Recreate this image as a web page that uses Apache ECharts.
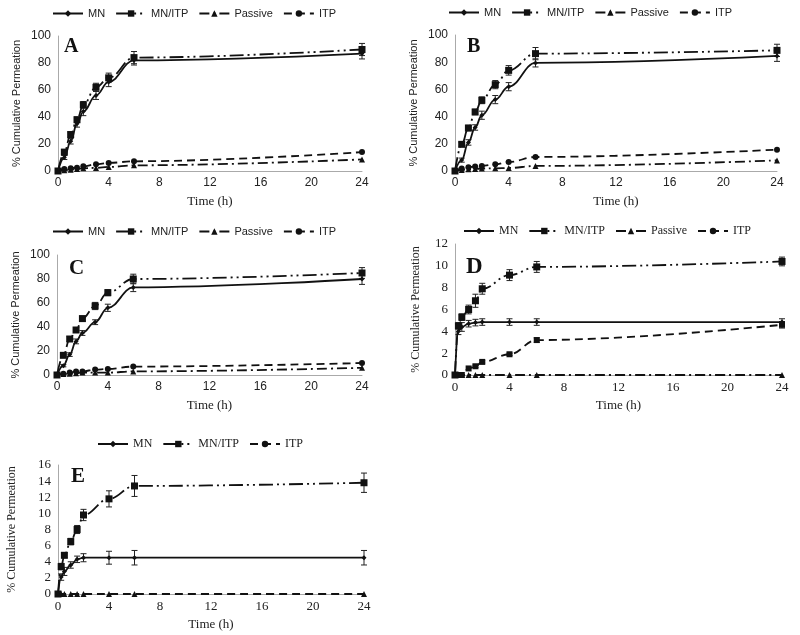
<!DOCTYPE html>
<html><head><meta charset="utf-8">
<script src="https://cdn.jsdelivr.net/npm/echarts@6/dist/echarts.min.js"></script>
<style>html,body{margin:0;padding:0;background:#fff}#c{width:800px;height:635px}</style>
</head><body><div id="c"></div><script>
// ---- Data ----
const timeABC = [0, 0.5, 1, 1.5, 2, 3, 4, 6, 24];
const timeDE  = [0, 0.25, 0.5, 1, 1.5, 2, 4, 6, 24];
const xTicks = [0, 4, 8, 12, 16, 20, 24];
const legendABCD = ['MN', 'MN/ITP', 'Passive', 'ITP'];
const legendE = ['MN', 'MN/ITP', 'ITP'];
const panelLetters = ['A', 'B', 'C', 'D', 'E'];

const A_MN      = [0, 10, 22, 35, 44, 56, 66, 82, 87];
const A_MNITP   = [0, 14, 27, 38, 49, 62, 69, 84, 90];
const A_Passive = [0, 0.5, 1, 1.5, 2, 2.3, 3, 4.2, 8.6];
const A_ITP     = [0, 1.5, 2, 2.5, 3.5, 5, 6, 7.2, 14];
const A_MN_err    = [0, 1.5, 2, 2.5, 3, 3, 3.5, 3.5, 4];
const A_MNITP_err = [0, 1.5, 2, 2, 2.5, 3, 3.5, 4.5, 4.5];

const B_MN      = [0, 8, 21, 32, 41, 52.5, 62, 79.5, 84.6];
const B_MNITP   = [0, 19.6, 31.6, 43.4, 52, 63.5, 74, 86.3, 88.7];
const B_Passive = [0, 0.8, 1.2, 1.5, 1.8, 2, 2.2, 3.7, 7.8];
const B_ITP     = [0, 1.8, 2.7, 3.3, 3.7, 4.9, 6.6, 10.3, 15.7];
const B_MN_err    = [0, 1.5, 2, 2, 3, 3, 3, 3, 4];
const B_MNITP_err = [0, 1.5, 2, 2, 2.5, 3, 3.5, 4.5, 4.5];

const C_MN      = [0, 7.8, 17, 28, 35, 44, 56, 73, 80];
const C_MNITP   = [0, 16.4, 30, 37.5, 47, 57.5, 68.6, 80, 85];
const C_Passive = [0, 0.8, 1, 1.5, 2, 2, 2, 3, 6];
const C_ITP     = [0, 1, 2, 3, 3, 4.5, 5, 7, 10];
const C_MN_err    = [0, 1, 1.5, 2, 2, 2, 3, 3.5, 4.5];
const C_MNITP_err = [0, 1, 2, 2, 2, 3, 2.5, 4, 4.5];

const D_MN      = [0, 4.0, 4.4, 4.7, 4.8, 4.85, 4.85, 4.85, 4.85];
const D_MNITP   = [0, 4.5, 5.3, 6.0, 6.8, 7.9, 9.15, 9.9, 10.4];
const D_Passive = [0, 0, 0, 0, 0, 0, 0, 0, 0];
const D_ITP     = [0, 0, 0, 0.6, 0.8, 1.2, 1.9, 3.2, 4.6];
const D_MN_err    = [0, 0.3, 0.4, 0.3, 0.3, 0.3, 0.3, 0.3, 0.3];
const D_MNITP_err = [0, 0.3, 0.3, 0.4, 0.6, 0.5, 0.5, 0.5, 0.4];
const D_ITP_err   = [0, 0, 0, 0, 0.1, 0.1, 0.1, 0.2, 0.3];

const E_MN      = [0, 2.1, 2.8, 3.6, 4.3, 4.5, 4.5, 4.5, 4.5];
const E_MNITP   = [0, 3.4, 4.8, 6.5, 8.0, 9.8, 11.8, 13.4, 13.8];
const E_ITP     = [0, 0, 0, 0, 0, 0, 0, 0, 0];
const E_MN_err    = [0, 0.4, 0.5, 0.4, 0.4, 0.5, 0.8, 0.9, 0.9];
const E_MNITP_err = [0, 0.4, 0.3, 0.4, 0.5, 0.7, 1.0, 1.3, 1.2];

// ---- Layout / styles ----
const SANS = 'Liberation Sans';
const SERIF = 'Liberation Serif';
const grids = [
  {left: 58, top: 36, width: 304, height: 135},
  {left: 455, top: 35, width: 322, height: 136},
  {left: 57, top: 255, width: 305, height: 120},
  {left: 455, top: 244, width: 327, height: 131},
  {left: 58, top: 465, width: 306, height: 129}
];
const yMax = [100, 100, 100, 12, 16];
const yInt = [20, 20, 20, 2, 2];
const tickFont = [SANS, SANS, SANS, SERIF, SERIF];
const nameGapY = [36, 36, 36, 33, 40];
const letterPos = [[64, 37, 20], [467, 37, 20], [69, 258, 21], [466, 256, 23], [71, 466, 21]];
const legendPos = [[52, 8], [448, 7], [52, 226], [463, 225], [97, 438]];
const legendFont = [SANS, SANS, SANS, SERIF, SERIF];

const style = {
  'MN':      {symbol: 'diamond', size: 5, type: 'solid'},
  'MN/ITP':  {symbol: 'rect', size: 7, type: [14, 4, 2, 4, 2, 4]},
  'Passive': {symbol: 'triangle', size: 6, type: [10, 4, 2, 4]},
  'ITP':     {symbol: 'circle', size: 6, type: [8, 5]}
};

const panels = [
  {t: timeABC, s: [['MN', A_MN, A_MN_err], ['MN/ITP', A_MNITP, A_MNITP_err], ['Passive', A_Passive, null], ['ITP', A_ITP, null]]},
  {t: timeABC, s: [['MN', B_MN, B_MN_err], ['MN/ITP', B_MNITP, B_MNITP_err], ['Passive', B_Passive, null], ['ITP', B_ITP, null]]},
  {t: timeABC, s: [['MN', C_MN, C_MN_err], ['MN/ITP', C_MNITP, C_MNITP_err], ['Passive', C_Passive, null], ['ITP', C_ITP, null]]},
  {t: timeDE, s: [['MN', D_MN, D_MN_err], ['MN/ITP', D_MNITP, D_MNITP_err], ['Passive', D_Passive, null], ['ITP', D_ITP, D_ITP_err, 'rect']]},
  {t: timeDE, s: [['MN', E_MN, E_MN_err], ['MN/ITP', E_MNITP, E_MNITP_err], ['ITP', E_ITP, null, 'triangle']]}
];

function errRender(params, api) {
  const x = api.value(0), y = api.value(1), e = api.value(2);
  if (!e) return null;
  const hi = api.coord([x, y + e]), lo = api.coord([x, Math.max(0, y - e)]);
  const w = 3, st = {stroke: '#222', lineWidth: 1};
  return {type: 'group', children: [
    {type: 'line', shape: {x1: hi[0], y1: hi[1], x2: lo[0], y2: lo[1]}, style: st},
    {type: 'line', shape: {x1: hi[0] - w, y1: hi[1], x2: hi[0] + w, y2: hi[1]}, style: st},
    {type: 'line', shape: {x1: lo[0] - w, y1: lo[1], x2: lo[0] + w, y2: lo[1]}, style: st}
  ]};
}

const xAxis = [], yAxis = [], series = [], legend = [], title = [];
grids.forEach((g, i) => {
  xAxis.push({
    type: 'value', gridIndex: i, min: 0, max: 24, interval: 4,
    name: 'Time (h)', nameLocation: 'middle', nameGap: 24,
    nameTextStyle: {fontFamily: SERIF, fontSize: 13, color: '#222'},
    axisLine: {show: true, lineStyle: {color: '#aaa'}}, axisTick: {show: false},
    splitLine: {show: false},
    axisLabel: {fontFamily: tickFont[i], fontSize: i < 3 ? 12 : 13, color: '#222', margin: 6,
      formatter: v => xTicks.includes(v) ? String(v) : ''}
  });
  yAxis.push({
    type: 'value', gridIndex: i, min: 0, max: yMax[i], interval: yInt[i],
    name: '% Cumulative Permeation', nameLocation: 'middle', nameGap: nameGapY[i],
    nameTextStyle: {fontFamily: i < 3 ? SANS : SERIF, fontSize: i < 3 ? 11 : 12, color: '#222'},
    axisLine: {show: true, lineStyle: {color: '#aaa'}}, axisTick: {show: false},
    splitLine: {show: false},
    axisLabel: {fontFamily: tickFont[i], fontSize: i < 3 ? 12 : 13, color: '#222', margin: 7}
  });
  const p = panels[i];
  p.s.forEach(([name, vals, errs, sym]) => {
    const st = style[name];
    series.push({
      type: 'line', name: name, xAxisIndex: i, yAxisIndex: i,
      data: p.t.map((t, k) => [t, vals[k]]),
      smooth: 0.4, smoothMonotone: 'x',
      symbol: sym || st.symbol, symbolSize: st.size, showSymbol: true,
      itemStyle: {color: '#111'},
      lineStyle: {color: '#111', width: 1.8, type: st.type},
      animation: false, z: 3
    });
    if (errs) {
      series.push({
        type: 'custom', xAxisIndex: i, yAxisIndex: i,
        data: p.t.map((t, k) => [t, vals[k], errs[k]]),
        renderItem: errRender, encode: {x: 0, y: 1}, animation: false, z: 2, silent: true
      });
    }
  });
  legend.push({
    data: i === 4 ? legendE : legendABCD,
    left: legendPos[i][0], top: legendPos[i][1], padding: 0,
    itemWidth: 30, itemHeight: 8, itemGap: 10,
    textStyle: {fontFamily: legendFont[i], fontSize: i < 3 ? 11 : 12, color: '#222'},
    selectedMode: false
  });
  title.push({
    text: panelLetters[i], left: letterPos[i][0], top: letterPos[i][1], padding: 0,
    textStyle: {fontFamily: SERIF, fontWeight: 'bold', fontSize: letterPos[i][2], color: '#111'}
  });
});

const chart = echarts.init(document.getElementById('c'));
chart.setOption({
  backgroundColor: '#fff', animation: false,
  grid: grids, xAxis, yAxis, series, legend, title
});
</script></body></html>
